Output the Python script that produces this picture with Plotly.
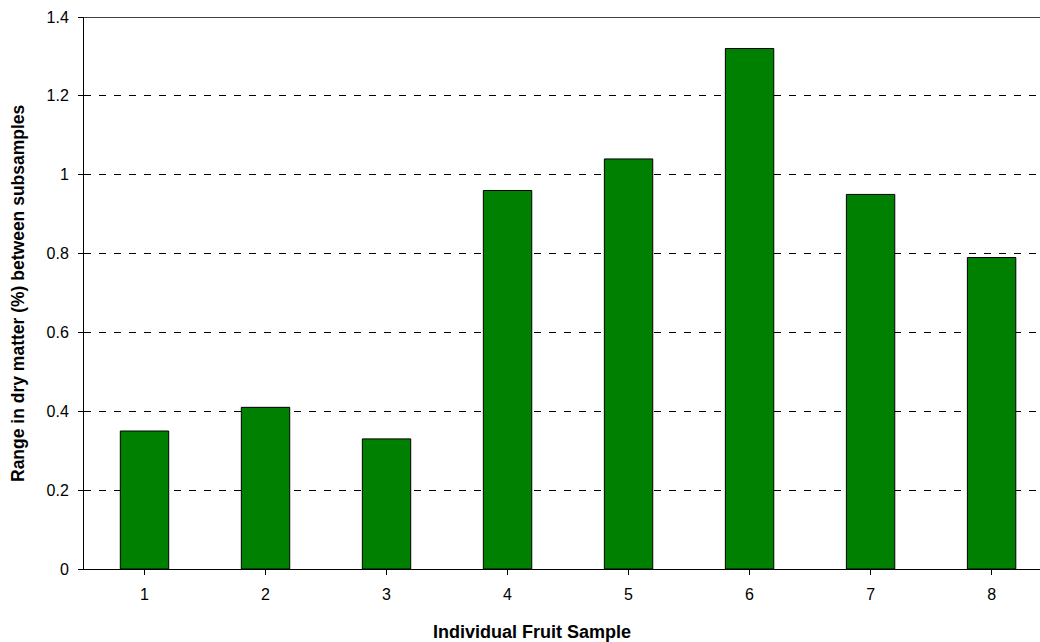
import plotly.graph_objects as go

samples = [1, 2, 3, 4, 5, 6, 7, 8]
ranges = [0.35, 0.41, 0.33, 0.96, 1.04, 1.32, 0.95, 0.79]
y_ticks = [0, 0.2, 0.4, 0.6, 0.8, 1.0, 1.2, 1.4]
y_tick_text = ["0", "0.2", "0.4", "0.6", "0.8", "1", "1.2", "1.4"]

FONT = "Arial, 'Liberation Sans', sans-serif"

fig = go.Figure()
fig.add_trace(go.Bar(
    x=samples, y=ranges, width=0.4,
    marker=dict(color="#008000", line=dict(color="#000000", width=1)),
))

W, H = 1040, 642
L, R, T, B = 84, 0, 17, 73
pw = W - L - R

fig.update_layout(
    width=W, height=H,
    margin=dict(l=L, r=R, t=T, b=B),
    paper_bgcolor="white", plot_bgcolor="white",
    showlegend=False,
    font=dict(family=FONT, size=16, color="#000000"),
    xaxis=dict(
        range=[0.5, 8.4], tickmode="array", tickvals=samples,
        ticktext=[str(s) for s in samples],
        tickson="boundaries", ticks="outside", ticklen=5, tickcolor="#000000",
        showline=True, linecolor="#000000", linewidth=1,
        showgrid=False, zeroline=False, ticklabelstandoff=6,
        tickfont=dict(size=16),
    ),
    yaxis=dict(
        range=[0, 1.4], tickmode="array", tickvals=y_ticks, ticktext=y_tick_text,
        ticks="outside", ticklen=5, tickcolor="#000000",
        showline=True, linecolor="#000000", linewidth=1,
        showgrid=True, gridcolor="#000000", gridwidth=1, griddash="7px,8px",
        zeroline=False, tickfont=dict(size=16), ticklabelstandoff=6,
    ),
    shapes=[dict(type="line", xref="paper", yref="y", x0=0, x1=1, y0=1.4, y1=1.4,
                 line=dict(color="#000000", width=1.5), layer="above")],
    annotations=[
        dict(text="<b>Individual Fruit Sample</b>", xref="paper", yref="paper",
             x=(532 - L) / pw, y=-(632 - (H - B)) / (H - T - B),
             xanchor="center", yanchor="middle", showarrow=False,
             font=dict(size=18, family=FONT)),
        dict(text="<b>Range in dry matter (%) between subsamples</b>", xref="paper", yref="paper",
             x=-(L - 18) / pw, y=0.5, textangle=-90,
             xanchor="center", yanchor="middle", showarrow=False,
             font=dict(size=17.5, family=FONT)),
    ],
)

fig.write_html(
    "out.html",
    config={"displayModeBar": False},
    post_script="document.body.style.margin='0';document.body.style.overflow='hidden';",
)
